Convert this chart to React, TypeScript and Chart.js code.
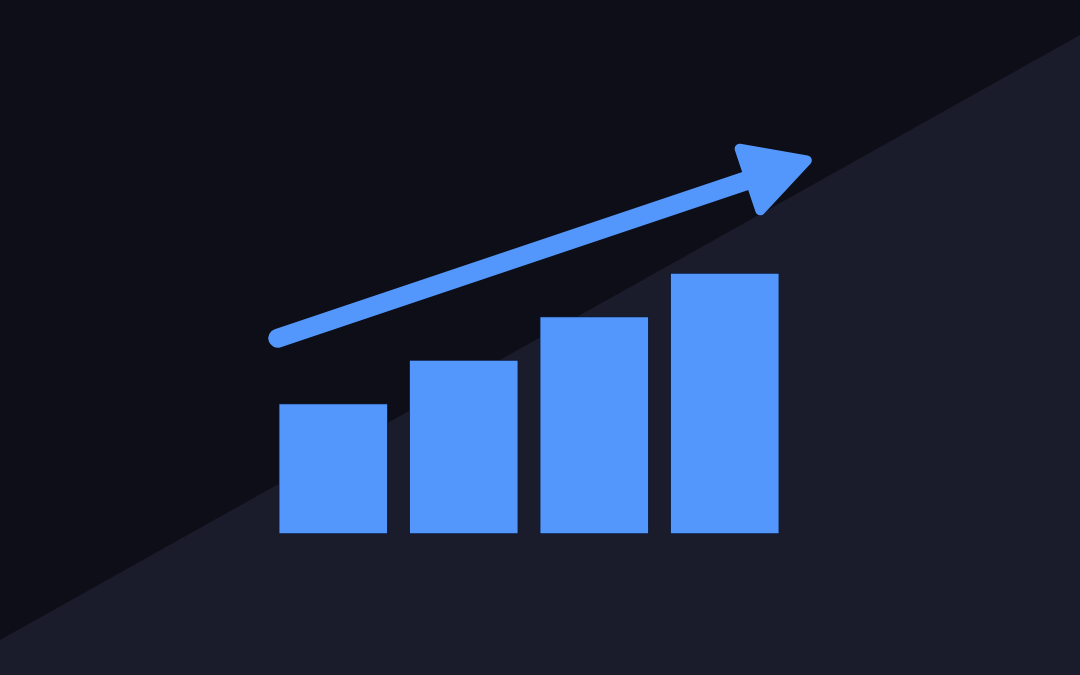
import React, { useEffect, useRef } from "react";
import { Chart, registerables } from "chart.js";

Chart.register(...registerables);

// Data
const categories = ["1", "2", "3", "4"];
const barValues = [3, 4, 5, 6];
// Arrow shaft: start and base of head, in category-index (x) / value (y) units
const arrowX = [-0.425, 3.215];
const arrowY = [4.5, 8.17];

const BAR_COLOR = "#5497fc";
const BG_DARK = "#0d0e17";
const BG_LIGHT = "#1b1c2b";

const backgroundPlugin = {
  id: "diagBackground",
  beforeDraw(chart: any) {
    const { ctx, width, height } = chart;
    ctx.save();
    ctx.fillStyle = BG_DARK;
    ctx.fillRect(0, 0, width, height);
    ctx.fillStyle = BG_LIGHT;
    ctx.beginPath();
    ctx.moveTo(0, height * 0.948);
    ctx.lineTo(width, height * 0.052);
    ctx.lineTo(width, height);
    ctx.lineTo(0, height);
    ctx.closePath();
    ctx.fill();
    ctx.restore();
  },
};

const arrowHeadPlugin = {
  id: "arrowHead",
  afterDatasetsDraw(chart: any) {
    const meta = chart.getDatasetMeta(1);
    if (!meta || !meta.data || meta.data.length < 2) return;
    const p0 = meta.data[meta.data.length - 2];
    const p1 = meta.data[meta.data.length - 1];
    const dx = p1.x - p0.x;
    const dy = p1.y - p0.y;
    const len = Math.sqrt(dx * dx + dy * dy);
    const ux = dx / len;
    const uy = dy / len;
    const nx = -uy;
    const ny = ux;
    const headLen = 57;
    const half = 32.5;
    const back = 3;
    const { ctx } = chart;
    ctx.save();
    ctx.fillStyle = BAR_COLOR;
    ctx.strokeStyle = BAR_COLOR;
    ctx.lineWidth = 10;
    ctx.lineJoin = "round";
    ctx.beginPath();
    ctx.moveTo(p1.x + ux * headLen, p1.y + uy * headLen);
    ctx.lineTo(p1.x - ux * back + nx * half, p1.y - uy * back + ny * half);
    ctx.lineTo(p1.x - ux * back - nx * half, p1.y - uy * back - ny * half);
    ctx.closePath();
    ctx.fill();
    ctx.stroke();
    ctx.restore();
  },
};

export default function App() {
  const ref = useRef<HTMLCanvasElement | null>(null);

  useEffect(() => {
    if (!ref.current) return;
    const chart = new Chart(ref.current, {
      type: "bar",
      data: {
        labels: categories,
        datasets: [
          {
            type: "bar",
            data: barValues.map((v, i) => ({ x: i, y: v })),
            backgroundColor: BAR_COLOR,
            borderColor: "#0d1a38",
            borderWidth: 1,
            borderSkipped: false,
            barThickness: 109,
            clip: false,
          } as any,
          {
            type: "line",
            data: arrowX.map((x, i) => ({ x, y: arrowY[i] })),
            borderColor: BAR_COLOR,
            borderWidth: 19,
            borderCapStyle: "round",
            pointRadius: 0,
            fill: false,
            clip: false,
          } as any,
        ],
      },
      options: {
        responsive: false,
        animation: false,
        devicePixelRatio: 1,
        layout: { padding: { left: 268, right: 290, top: 0, bottom: 141 } },
        plugins: {
          legend: { display: false },
          tooltip: { enabled: false },
          title: { display: false },
        },
        scales: {
          x: { type: "linear", display: false, offset: false, min: -0.5, max: 3.5 },
          y: { type: "linear", display: false, min: 0, max: 534 / 43.5 },
        },
      },
      plugins: [backgroundPlugin, arrowHeadPlugin],
    });
    return () => chart.destroy();
  }, []);

  return (
    <div style={{ position: "fixed", left: 0, top: 0, width: 1080, height: 675 }}>
      <canvas ref={ref} width={1080} height={675} style={{ display: "block" }} />
    </div>
  );
}
